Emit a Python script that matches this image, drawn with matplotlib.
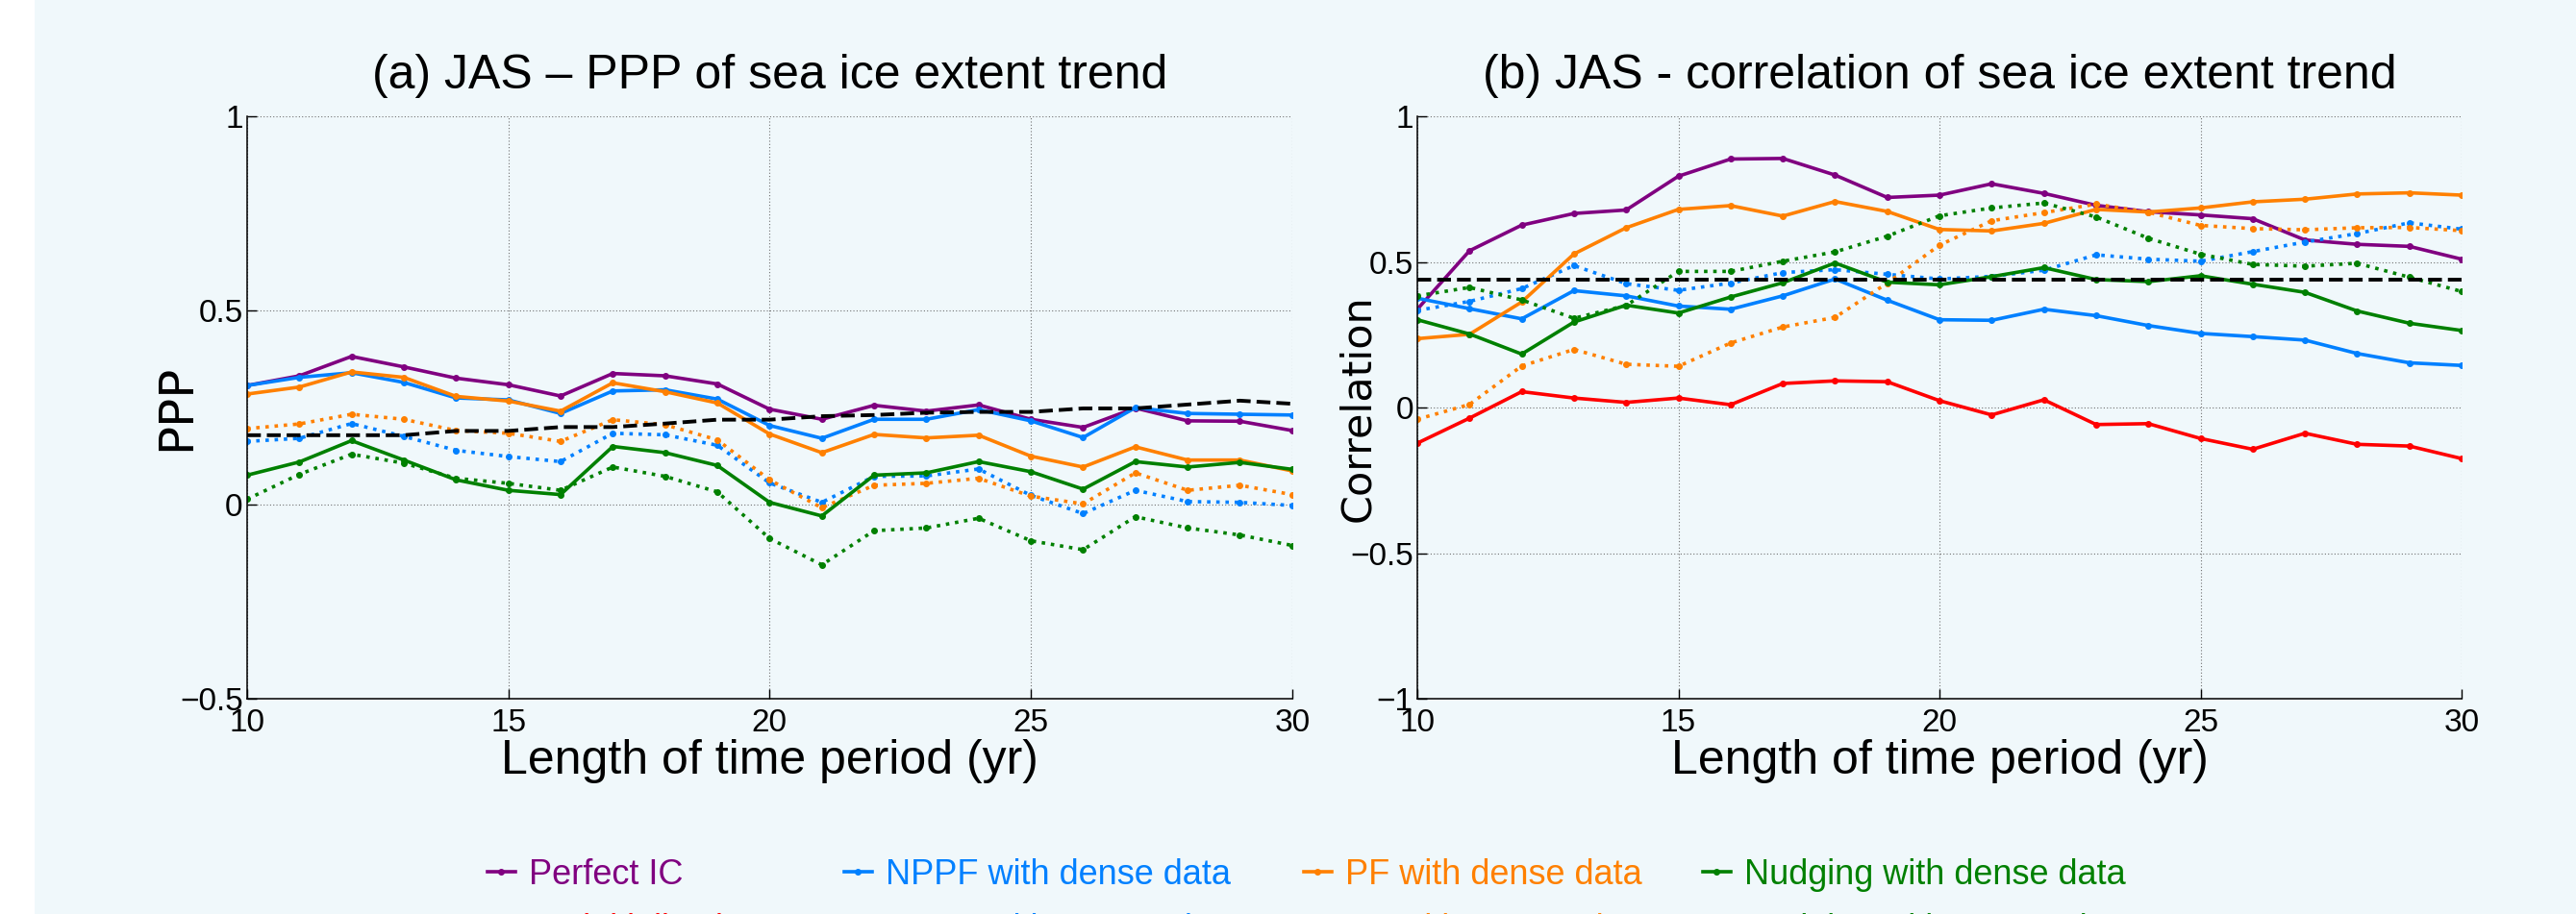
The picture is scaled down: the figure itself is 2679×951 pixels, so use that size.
import matplotlib
matplotlib.use('Agg')
import matplotlib.pyplot as plt
from matplotlib.patches import Rectangle

# length of time period (yr)
years = [10, 11, 12, 13, 14, 15, 16, 17, 18, 19, 20, 21, 22, 23, 24, 25, 26, 27, 28, 29, 30]

# (a) PPP of sea ice extent trend
ppp_perfect = [0.307, 0.332, 0.382, 0.355, 0.326, 0.309, 0.280, 0.338, 0.332, 0.311, 0.246,
               0.220, 0.256, 0.241, 0.257, 0.220, 0.199, 0.249, 0.216, 0.215, 0.191]
ppp_nppf_dense = [0.307, 0.328, 0.340, 0.315, 0.275, 0.270, 0.235, 0.293, 0.296, 0.272, 0.204,
                  0.171, 0.220, 0.220, 0.245, 0.216, 0.173, 0.250, 0.235, 0.233, 0.231]
ppp_nppf_sparse = [0.163, 0.171, 0.209, 0.176, 0.140, 0.124, 0.111, 0.184, 0.180, 0.153, 0.056,
                   0.006, 0.073, 0.074, 0.092, 0.024, -0.023, 0.037, 0.008, 0.006, -0.002]
ppp_pf_dense = [0.285, 0.303, 0.342, 0.328, 0.279, 0.267, 0.241, 0.314, 0.291, 0.262, 0.182,
                0.134, 0.181, 0.172, 0.179, 0.125, 0.097, 0.149, 0.115, 0.115, 0.087]
ppp_pf_sparse = [0.196, 0.208, 0.233, 0.220, 0.191, 0.184, 0.163, 0.219, 0.206, 0.167, 0.064,
                 -0.008, 0.050, 0.055, 0.068, 0.022, 0.002, 0.082, 0.037, 0.050, 0.026]
ppp_nudg_dense = [0.076, 0.110, 0.165, 0.115, 0.064, 0.037, 0.026, 0.150, 0.134, 0.101, 0.006,
                  -0.029, 0.076, 0.082, 0.111, 0.085, 0.040, 0.111, 0.097, 0.109, 0.091]
ppp_nudg_sparse = [0.014, 0.078, 0.130, 0.107, 0.068, 0.055, 0.037, 0.097, 0.073, 0.033, -0.087,
                   -0.155, -0.067, -0.060, -0.035, -0.093, -0.116, -0.031, -0.060, -0.078, -0.105]
ppp_threshold = [0.179, 0.179, 0.179, 0.179, 0.190, 0.190, 0.200, 0.200, 0.209, 0.219, 0.219,
                 0.228, 0.231, 0.237, 0.239, 0.239, 0.248, 0.248, 0.258, 0.268, 0.260]

# (b) correlation of sea ice extent trend
corr_perfect = [0.338, 0.539, 0.627, 0.667, 0.679, 0.795, 0.854, 0.856, 0.799, 0.722, 0.730,
                0.769, 0.736, 0.695, 0.673, 0.662, 0.649, 0.576, 0.561, 0.554, 0.510]
corr_noinit = [-0.122, -0.036, 0.055, 0.033, 0.018, 0.033, 0.010, 0.083, 0.092, 0.089, 0.024,
               -0.025, 0.027, -0.058, -0.055, -0.106, -0.143, -0.088, -0.126, -0.132, -0.175]
corr_nppf_dense = [0.376, 0.340, 0.305, 0.402, 0.384, 0.349, 0.338, 0.384, 0.442, 0.369, 0.302,
                   0.300, 0.338, 0.316, 0.282, 0.255, 0.244, 0.232, 0.186, 0.154, 0.145]
corr_nppf_sparse = [0.334, 0.365, 0.409, 0.488, 0.426, 0.403, 0.428, 0.464, 0.474, 0.458, 0.442,
                    0.451, 0.472, 0.525, 0.510, 0.503, 0.536, 0.569, 0.598, 0.635, 0.613]
corr_pf_dense = [0.237, 0.252, 0.363, 0.528, 0.618, 0.681, 0.694, 0.658, 0.708, 0.674, 0.612,
                 0.607, 0.633, 0.681, 0.672, 0.686, 0.707, 0.716, 0.734, 0.738, 0.730]
corr_pf_sparse = [-0.040, 0.011, 0.143, 0.200, 0.149, 0.142, 0.222, 0.277, 0.310, 0.428, 0.558,
                  0.642, 0.670, 0.699, 0.671, 0.626, 0.615, 0.611, 0.618, 0.619, 0.608]
corr_nudg_dense = [0.302, 0.253, 0.184, 0.294, 0.352, 0.325, 0.380, 0.429, 0.497, 0.431, 0.422,
                   0.450, 0.481, 0.440, 0.433, 0.453, 0.424, 0.396, 0.332, 0.290, 0.265]
corr_nudg_sparse = [0.384, 0.413, 0.370, 0.307, 0.351, 0.468, 0.468, 0.503, 0.535, 0.589, 0.659,
                    0.686, 0.703, 0.655, 0.582, 0.527, 0.492, 0.486, 0.496, 0.448, 0.399]
corr_threshold = [0.44, 0.44, 0.44, 0.44, 0.44, 0.44, 0.44, 0.44, 0.44, 0.44, 0.44,
                  0.44, 0.44, 0.44, 0.44, 0.44, 0.44, 0.44, 0.44, 0.44, 0.44]

labels = ['Perfect IC', 'No initialisation',
          'NPPF with dense data', 'NPPF with sparse data',
          'PF with dense data', 'PF with sparse data',
          'Nudging with dense data', 'Nudging with sparse data']

ppp_ticks = [-0.5, 0, 0.5, 1]
ppp_ticklabels = ['\u22120.5', '0', '0.5', '1']
corr_ticks = [-1, -0.5, 0, 0.5, 1]
corr_ticklabels = ['\u22121', '\u22120.5', '0', '0.5', '1']
x_ticks = [10, 15, 20, 25, 30]

purple = '#800080'
red = '#ff0000'
blue = '#0080ff'
orange = '#ff8000'
green = '#008000'
bg = '#f0f8fb'

plt.rcParams['font.family'] = ['Liberation Sans', 'DejaVu Sans']

fig = plt.figure(figsize=(26.79, 9.51), dpi=100)
fig.patch.set_facecolor(bg)
fig.add_artist(Rectangle((0, 0), 36 / 2679, 1, transform=fig.transFigure,
                         facecolor='white', edgecolor='none', zorder=-5))

ax1 = fig.add_axes([0.0959, 0.2355, 0.4057, 0.637])
ax2 = fig.add_axes([0.5502, 0.2355, 0.4054, 0.637])

lw = 2.6
ms = 8


def draw(ax, series):
    lines = []
    for y, c, ls in series:
        ln, = ax.plot(years, y, color=c, linestyle=ls, linewidth=lw, marker='.', markersize=ms)
        lines.append(ln)
    return lines


draw(ax1, [(ppp_perfect, purple, '-'),
           (ppp_nppf_dense, blue, '-'), (ppp_nppf_sparse, blue, ':'),
           (ppp_pf_dense, orange, '-'), (ppp_pf_sparse, orange, ':'),
           (ppp_nudg_dense, green, '-'), (ppp_nudg_sparse, green, ':')])
ax1.plot(years, ppp_threshold, color='black', linestyle='--', linewidth=2.8)

handles = draw(ax2, [(corr_perfect, purple, '-'), (corr_noinit, red, '-'),
                     (corr_nppf_dense, blue, '-'), (corr_nppf_sparse, blue, ':'),
                     (corr_pf_dense, orange, '-'), (corr_pf_sparse, orange, ':'),
                     (corr_nudg_dense, green, '-'), (corr_nudg_sparse, green, ':')])
ax2.plot(years, corr_threshold, color='black', linestyle='--', linewidth=2.8)

for ax, yt, ytl in [(ax1, ppp_ticks, ppp_ticklabels), (ax2, corr_ticks, corr_ticklabels)]:
    ax.set_facecolor('none')
    ax.set_xlim(10, 30)
    ax.set_ylim(yt[0], yt[-1])
    ax.set_xticks(x_ticks)
    ax.set_xticklabels([str(t) for t in x_ticks])
    ax.set_yticks(yt)
    ax.set_yticklabels(ytl)
    ax.spines['top'].set_visible(False)
    ax.spines['right'].set_visible(False)
    ax.spines['left'].set_linewidth(1.1)
    ax.spines['bottom'].set_linewidth(1.1)
    ax.tick_params(direction='in', length=7, width=1, labelsize=24)
    ax.tick_params(axis='x', pad=7)
    ax.tick_params(axis='y', pad=3)
    ax.grid(True, color='#707070', linestyle=(0, (1, 2)), linewidth=0.8)
    ax.set_axisbelow(True)
    ax.set_xlabel('Length of time period (yr)', fontsize=36, labelpad=1)

ax1.set_title('(a) JAS \u2013 PPP of sea ice extent trend', fontsize=36, pad=21)
ax2.set_title('(b) JAS - correlation of sea ice extent trend', fontsize=36, pad=21)
ax1.set_ylabel('PPP', fontsize=36, family='DejaVu Sans')
ax2.set_ylabel('Correlation', fontsize=31, family='DejaVu Sans')
ax1.yaxis.set_label_coords(-0.046, 0.5)
ax2.yaxis.set_label_coords(-0.038, 0.5)

# legend: four columns of two entries each
col_x = [507, 878, 1356, 1771]
for i, x0 in enumerate(col_x):
    fig.legend(handles[2 * i:2 * i + 2], labels[2 * i:2 * i + 2], loc='upper left',
               bbox_to_anchor=(x0 / 2679, 1 - 893 / 951), frameon=False, fontsize=26,
               handlelength=0.8, handletextpad=0.4, labelspacing=0.6, borderpad=0,
               borderaxespad=0, labelcolor='linecolor')

fig.savefig('out.png', dpi=100, facecolor=fig.get_facecolor())
